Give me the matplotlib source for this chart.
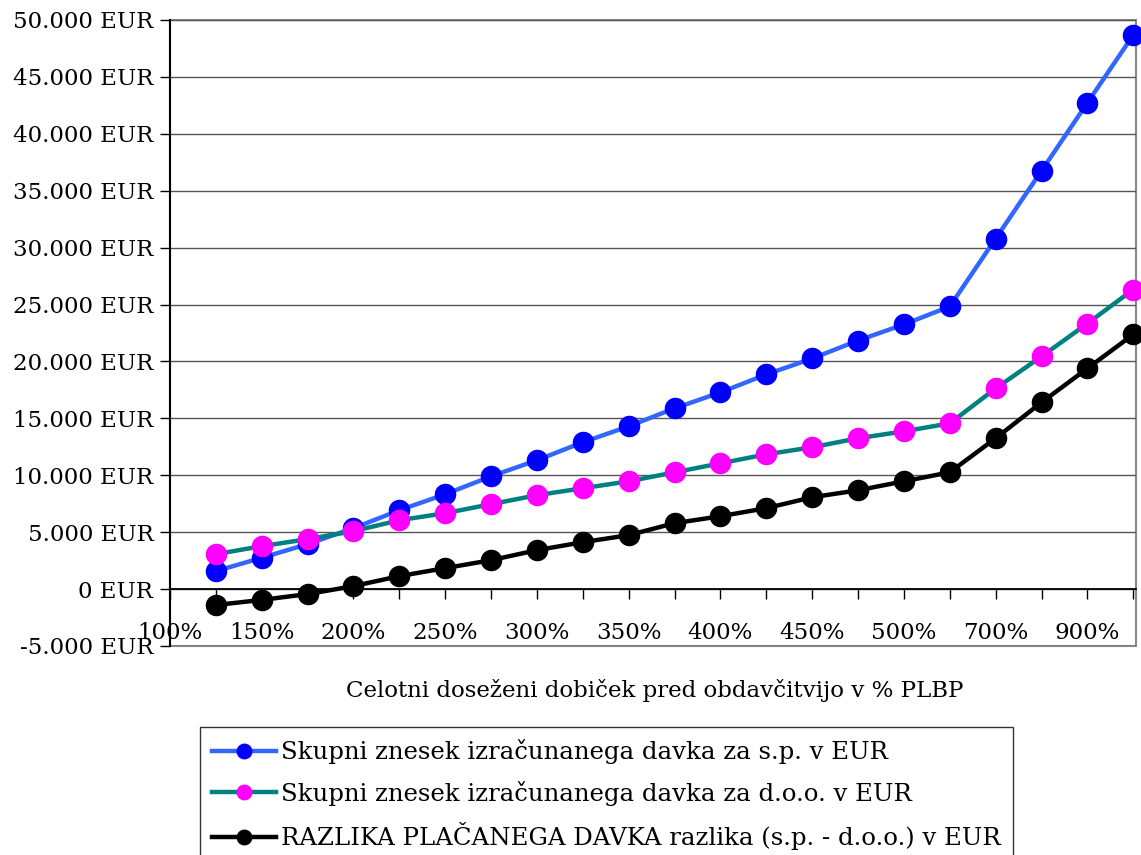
import matplotlib.pyplot as plt
from matplotlib.patches import Rectangle
from matplotlib.ticker import FuncFormatter

plt.rcParams['font.family'] = ['DejaVu Serif']

# categories: % PLBP (position -1 is 100%, only used as the first axis label)
percent = [100, 125, 150, 175, 200, 225, 250, 275, 300, 325, 350, 375, 400,
           425, 450, 475, 500, 600, 700, 800, 900, 1000]
sp_tax = [1580, 2750, 3950, 5350, 6930, 8330, 9910, 11320, 12900, 14300,
          15880, 17280, 18860, 20260, 21840, 23250, 24830, 30790, 36750,
          42720, 48680]
doo_tax = [3070, 3770, 4390, 5090, 6050, 6670, 7460, 8250, 8860, 9470,
           10260, 11050, 11840, 12460, 13250, 13860, 14560, 17630, 20440,
           23330, 26320]
diff_tax = [-1400, -950, -440, 260, 1140, 1840, 2540, 3420, 4120, 4740,
            5790, 6400, 7110, 8070, 8680, 9470, 10260, 13250, 16400, 19390,
            22370]
labels = ["Skupni znesek izračunanega davka za s.p. v EUR",
          "Skupni znesek izračunanega davka za d.o.o. v EUR",
          "RAZLIKA PLAČANEGA DAVKA razlika (s.p. - d.o.o.) v EUR"]

x = list(range(len(sp_tax)))
fs = 16.5

fig = plt.figure(figsize=(11.41, 8.55), dpi=100)
ax = fig.add_axes([170/1141, 1-646/855, (1136-170)/1141, (646-20)/855])

ax.plot(x, sp_tax, color='#3366ff', lw=3.2, marker='o', ms=14.5,
        mfc='#0000ff', mec='#0000ff', label=labels[0], clip_on=False, zorder=3)
ax.plot(x, doo_tax, color='#008080', lw=3.2, marker='o', ms=14.5,
        mfc='#ff00ff', mec='#ff00ff', label=labels[1], clip_on=False, zorder=3)
ax.plot(x, diff_tax, color='black', lw=3.2, marker='o', ms=14.5,
        mfc='black', mec='black', label=labels[2], clip_on=False, zorder=3)

ax.set_ylim(-5000, 50000)
ax.set_xlim(-1, 20.06)
ax.set_yticks(range(-5000, 50001, 5000))
ax.yaxis.set_major_formatter(FuncFormatter(
    lambda v, p: f"{int(v):,} EUR".replace(",", ".")))
ax.grid(axis='y', color='#555555', lw=1)
ax.set_axisbelow(True)

ticks = list(range(-1, 21))
ax.set_xticks(ticks)
ax.set_xticklabels([f"{percent[i + 1]}%" if i % 2 == 1 or i == -1 else ""
                    for i in ticks])
ax.spines['bottom'].set_position(('data', 0))
ax.spines['bottom'].set_linewidth(1.3)
ax.spines['left'].set_linewidth(1.5)
for s in ['top', 'right']:
    ax.spines[s].set_visible(False)
ax.add_patch(Rectangle((0, 0), 1, 1, transform=ax.transAxes, fill=False,
                       edgecolor='#888888', lw=1.5, clip_on=False, zorder=0))
ax.tick_params(axis='x', direction='out', length=7, width=1, pad=17,
               labelsize=fs)
ax.tick_params(axis='y', direction='out', length=7, width=1, pad=5,
               labelsize=fs)

fig.text(655/1141, 1-690/855, "Celotni doseženi dobiček pred obdavčitvijo v % PLBP",
         ha='center', va='center', fontsize=fs)

leg = fig.legend(loc='upper left', bbox_to_anchor=(200/1141, 1-727/855),
                 fontsize=17.6, frameon=True, fancybox=False, handlelength=2.6,
                 handletextpad=0.2, labelspacing=0.68, borderpad=0.5,
                 borderaxespad=0, markerscale=0.72)
leg.get_frame().set_edgecolor('black')
leg.get_frame().set_linewidth(1)

fig.savefig("out.png", dpi=100)
